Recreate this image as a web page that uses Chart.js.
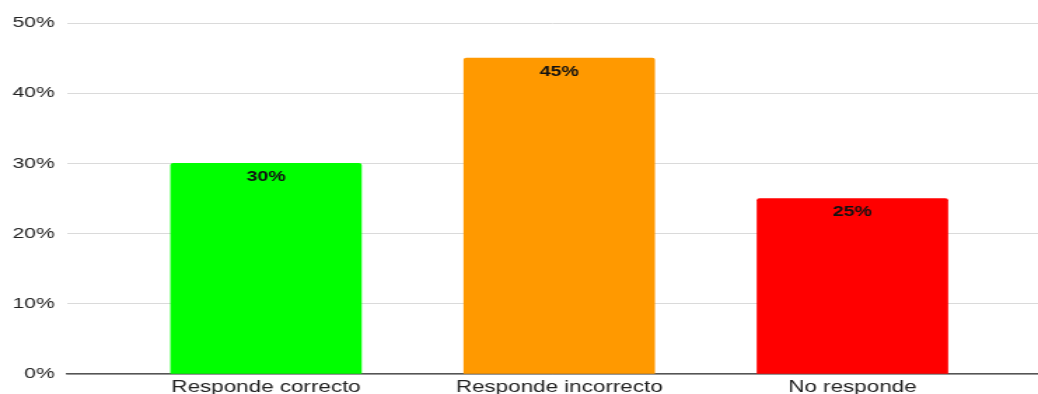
<!DOCTYPE html>
<html>
<head>
<meta charset="utf-8">
<script src="https://cdn.jsdelivr.net/npm/chart.js@4.4.0/dist/chart.umd.min.js"></script>
<style>
    html, body { margin: 0; padding: 0; background: #fff; overflow: hidden; }
    /* the reference is stretched sideways, so draw narrow and stretch the canvas */
    #chart { display: block; transform: scaleX(1.4008); transform-origin: 0 0; }
</style>
</head>
<body>
<canvas id="chart" width="741" height="394"></canvas>
<script>
const categories = ['Responde correcto', 'Responde incorrecto', 'No responde'];
const values = [30, 45, 25];
const barColors = ['#00ff00', '#ff9900', '#ff0000'];
const yTicks = [0, 10, 20, 30, 40, 50];

const textColor = '#222';
const fontFamily = "'Liberation Sans', Arial, sans-serif";

// value labels inside the top of each bar
const barLabels = {
    id: 'barLabels',
    afterDatasetsDraw(chart) {
        const ctx = chart.ctx;
        const meta = chart.getDatasetMeta(0);
        ctx.save();
        ctx.font = 'bold 14px ' + fontFamily;
        ctx.fillStyle = '#111';
        ctx.textAlign = 'center';
        ctx.textBaseline = 'middle';
        meta.data.forEach((bar, i) => {
            ctx.fillText(values[i] + '%', bar.x, bar.y + 14);
        });
        ctx.restore();
    }
};

new Chart(document.getElementById('chart'), {
    type: 'bar',
    data: {
        datasets: [{
            data: values.map((v, i) => ({ x: i, y: v })),
            backgroundColor: barColors,
            borderWidth: 0,
            borderRadius: { topLeft: 2, topRight: 2 },
            borderSkipped: 'bottom',
            barThickness: 136
        }]
    },
    options: {
        responsive: false,
        animation: false,
        layout: { padding: { top: 23, left: 0, right: 0, bottom: -8 } },
        plugins: {
            legend: { display: false },
            tooltip: { enabled: false }
        },
        scales: {
            x: {
                type: 'linear',
                offset: false,
                min: -0.678,
                max: 2.633,
                afterBuildTicks: (scale) => {
                    scale.ticks = categories.map((_, i) => ({ value: i }));
                },
                grid: { display: false, drawTicks: false },
                border: { display: true, color: '#555', width: 1.5 },
                ticks: {
                    callback: (v) => categories[v],
                    color: textColor,
                    font: { family: fontFamily, size: 16, lineHeight: 0.5 },
                    padding: 10,
                    maxRotation: 0,
                    autoSkip: false
                }
            },
            y: {
                min: 0,
                max: 50,
                afterBuildTicks: (scale) => {
                    scale.ticks = yTicks.map(v => ({ value: v }));
                },
                grid: { color: '#dadada', lineWidth: 1, drawTicks: false },
                border: { display: false },
                ticks: {
                    callback: (v) => v + '%',
                    color: textColor,
                    font: { family: fontFamily, size: 15 },
                    padding: 9
                }
            }
        }
    },
    plugins: [barLabels]
});
</script>
</body>
</html>
